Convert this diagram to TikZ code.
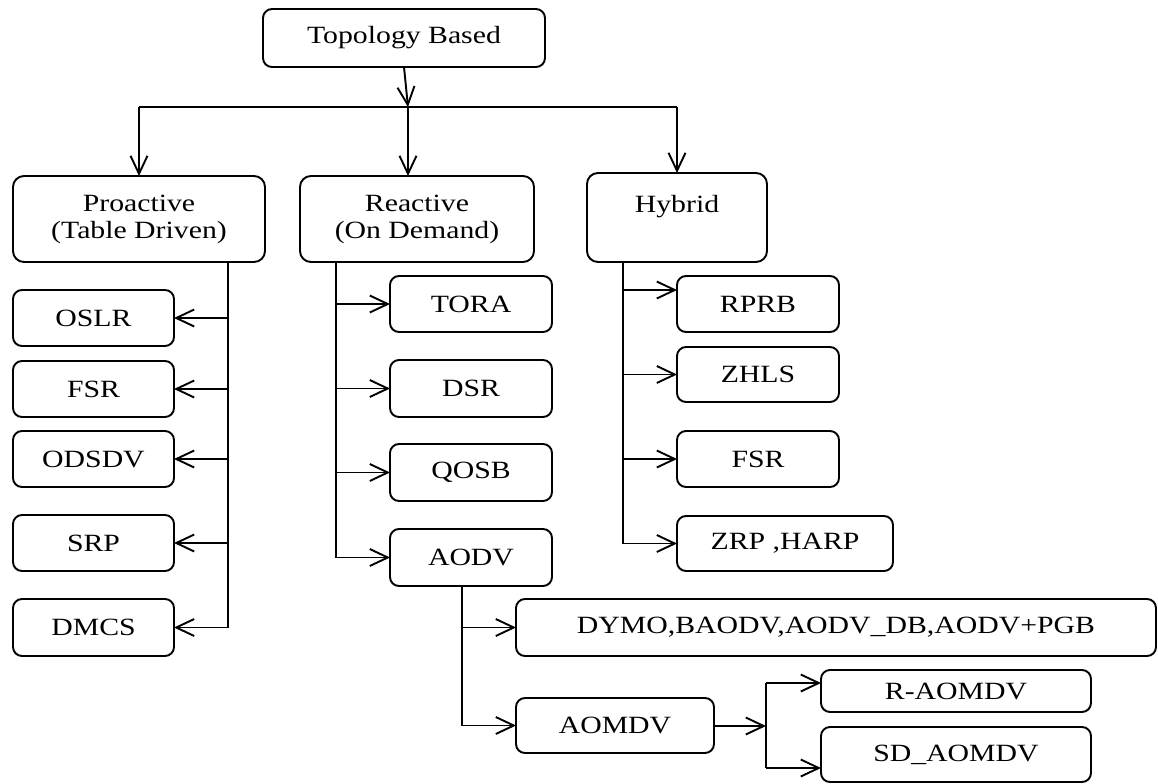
\documentclass[tikz,border=0pt]{standalone}
\usepackage{fontspec}
\setmainfont[FakeStretch=1.2]{Liberation Serif}
\usetikzlibrary{arrows.meta}
\begin{document}
\begin{tikzpicture}[x=0.5pt,y=-0.5pt,
  line width=0.95pt,
  bx/.style 2 args={draw, rounded corners=4.5pt, inner sep=0pt, outer sep=0pt,
     minimum width=#1*0.5pt, minimum height=#2*0.5pt, align=center,
     font=\fontsize{12.4pt}{13.5pt}\selectfont},
  sm/.style={font=\fontsize{12.4pt}{13.5pt}\selectfont},
  arr/.style={-{Straight Barb[length=9pt,width=8.5pt,line width=0.95pt]}}]
\useasboundingbox (0,0) rectangle (1158,783);
% nodes
\node[bx={282}{58}] (top) at (404,38) {Topology Based};
\node[bx={252}{86}, rounded corners=5.5pt] (pro) at (139,219) {Proactive\\(Table Driven)};
\node[bx={234}{86}, rounded corners=5.5pt] (rea) at (417,219) {Reactive\\(On Demand)};
\node[bx={180}{89}, rounded corners=5.5pt] (hyb) at (677,217.5) {Hybrid\\\mbox{}};
% proactive children
\node[bx={161}{56}] (oslr) at (93.5,318) {OSLR};
\node[bx={161}{56}] (fsra) at (93.5,389) {FSR};
\node[bx={161}{56}] (odsdv) at (93.5,459) {ODSDV};
\node[bx={161}{56}] (srp) at (93.5,543) {SRP};
\node[bx={161}{57}] (dmcs) at (93.5,627.5) {DMCS};
% reactive children
\node[bx={162}{56}] (tora) at (471,304) {TORA};
\node[bx={162}{57}] (dsr) at (471,388.5) {DSR};
\node[bx={162}{57}] (qosb) at (471,472.5) {QOSB};
\node[bx={162}{57}] (aodv) at (471,557.5) {AODV};
% hybrid children
\node[bx={162}{56}] (rprb) at (758,304) {RPRB};
\node[bx={162}{55}] (zhls) at (758,374.5) {ZHLS};
\node[bx={162}{56}] (fsrb) at (758,459) {FSR};
\node[bx={216}{55}, sm] (zrp) at (785,543.5) {ZRP ,HARP};
% AODV subtree
\node[bx={640}{57}, sm] (dymo) at (836,627.5) {DYMO,BAODV,AODV\_DB,AODV+PGB};
\node[bx={198}{55}, sm] (aomdv) at (615,725.5) {AOMDV};
\node[bx={270}{42}, sm] (raomdv) at (956,691) {R-AOMDV};
\node[bx={270}{55}, sm] (sdaomdv) at (956,754.5) {SD\_AOMDV};
% junction coordinates
\coordinate (J) at (408,107);
\coordinate (P0) at (228,262);
\coordinate (R0) at (336,262);
\coordinate (H0) at (623,262);
\coordinate (A0) at (462,586);
\coordinate (K) at (766,726);
\coordinate (Ka) at (766,683);
\coordinate (Kb) at (766,768);
% top level
\draw[arr] (top.south) -- (J);
\draw (J -| pro.north) -- (J -| hyb.north);
\draw[arr] (J -| pro.north) -- (pro.north);
\draw[arr] (J) -- (J |- rea.north);
\draw[arr] (J -| hyb.north) -- (hyb.north);
% proactive
\draw (P0) -- (P0 |- dmcs.east);
\foreach \n in {oslr,fsra,odsdv,srp,dmcs} \draw[arr] (P0 |- \n.east) -- (\n.east);
% reactive
\draw (R0) -- (R0 |- aodv.west);
\foreach \n in {tora,dsr,qosb,aodv} \draw[arr] (R0 |- \n.west) -- (\n.west);
% hybrid
\draw (H0) -- (H0 |- zrp.west);
\draw[arr] (H0 |- 0,290) -- (rprb.west |- 0,290);
\foreach \n in {zhls,fsrb,zrp} \draw[arr] (H0 |- \n.west) -- (\n.west);
% aodv
\draw (A0) -- (A0 |- aomdv.west);
\draw[arr] (A0 |- dymo.west) -- (dymo.west);
\draw[arr] (A0 |- aomdv.west) -- (aomdv.west);
% aomdv
\draw[arr] (aomdv.east |- K) -- (K);
\draw (Ka) -- (Kb);
\draw[arr] (Ka) -- (raomdv.west |- Ka);
\draw[arr] (Kb) -- (sdaomdv.west |- Kb);
\end{tikzpicture}
\end{document}
